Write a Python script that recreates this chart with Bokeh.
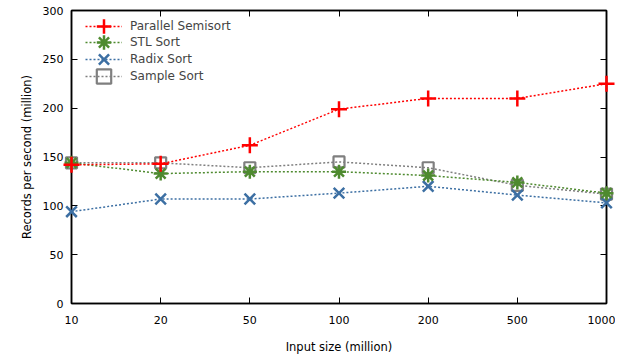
from bokeh.plotting import figure
from bokeh.models import FixedTicker, LinearAxis, Range1d, Legend, LegendItem
from bokeh.embed import file_html
from bokeh.resources import INLINE

sizes = ["10", "20", "50", "100", "200", "500", "1000"]
semisort = [142, 143, 162, 199, 210, 210, 225]
stl = [144, 133, 135, 135, 131, 124, 113]
radix = [94, 107, 107, 113, 120, 111, 103]
sample = [144, 144, 139, 145, 139, 121, 112]
y_ticks = [0, 50, 100, 150, 200, 250, 300]

xs = list(range(len(sizes)))
FONT = "DejaVu Sans"

p = figure(width=615, height=356, output_backend="svg", toolbar_location=None,
           x_range=Range1d(0, len(sizes) - 1), y_range=Range1d(0, 300),
           min_border_left=71, min_border_right=9, min_border_top=10, min_border_bottom=49)
p.xgrid.visible = False
p.ygrid.visible = False
p.outline_line_color = "black"
p.outline_line_width = 1.5

for ax in [p.xaxis[0], p.yaxis[0]]:
    ax.major_tick_in = 6
    ax.major_tick_out = 0
    ax.minor_tick_in = 0
    ax.minor_tick_out = 0
    ax.axis_line_width = 1.5
    ax.major_tick_line_width = 1
    ax.major_label_text_font = FONT
    ax.major_label_text_font_size = "11px"
    ax.major_label_text_color = "black"
    ax.axis_label_text_font = FONT
    ax.axis_label_text_font_size = "11.5px"
    ax.axis_label_text_font_style = "normal"
    ax.axis_label_text_color = "black"

p.xaxis[0].ticker = FixedTicker(ticks=xs)
p.xaxis[0].major_label_overrides = {i: s for i, s in enumerate(sizes)}
p.xaxis[0].axis_label = "Input size (million)"
p.xaxis[0].major_label_standoff = 12
p.xaxis[0].axis_label_standoff = 13
p.yaxis[0].ticker = FixedTicker(ticks=y_ticks)
p.yaxis[0].axis_label = "Records per second (million)"
p.yaxis[0].major_label_standoff = 8
p.yaxis[0].axis_label_standoff = 6

top = LinearAxis(ticker=FixedTicker(ticks=xs),
                 major_label_overrides={i: "" for i in xs},
                 major_tick_in=6, major_tick_out=0, minor_tick_in=0, minor_tick_out=0,
                 axis_line_width=1.5, major_label_standoff=0)
right = LinearAxis(ticker=FixedTicker(ticks=y_ticks),
                   major_label_overrides={v: "" for v in y_ticks},
                   major_tick_in=6, major_tick_out=0, minor_tick_in=0, minor_tick_out=0,
                   axis_line_width=1.5, major_label_standoff=0)
p.add_layout(top, "above")
p.add_layout(right, "right")

red = "#ff0000"
green = "#4e8a2f"
blue = "#3c6fa3"
gray = "#7f7f7f"

series = [
    ("Parallel Semisort", semisort, red, "cross", 16),
    ("STL Sort", stl, green, "asterisk", 14),
    ("Radix Sort", radix, blue, "x", 15),
    ("Sample Sort", sample, gray, "square", 11),
]
legend_rows = [259, 243, 226, 209]

made = {}
# draw in reverse so that Parallel Semisort lies on top
for name, ys, col, mk, sz in reversed(series):
    l = p.line(xs, ys, line_color=col, line_width=1.5, line_dash="2 2")
    if mk == "square":
        s = p.scatter(xs, ys, marker=mk, size=sz, line_color=col, fill_color=None,
                      line_width=2.2, level="overlay")
    else:
        s = p.scatter(xs, ys, marker=mk, size=sz, line_color=col, line_width=2.5,
                      level="overlay")
    made[name] = (l, s)

# one single-item legend per row so that legend markers keep full size
for (name, ys, col, mk, sz), row_y in zip(series, legend_rows):
    l, s = made[name]
    leg = Legend(items=[LegendItem(label=name, renderers=[l, s])], location=(14, row_y),
                 glyph_width=37, glyph_height=36,
                 label_text_font=FONT, label_text_font_size="12px", spacing=0,
                 background_fill_alpha=0, border_line_alpha=0, padding=0, margin=0,
                 label_standoff=8)
    p.add_layout(leg, "center")

open("out.html", "w").write(file_html(p, INLINE))
